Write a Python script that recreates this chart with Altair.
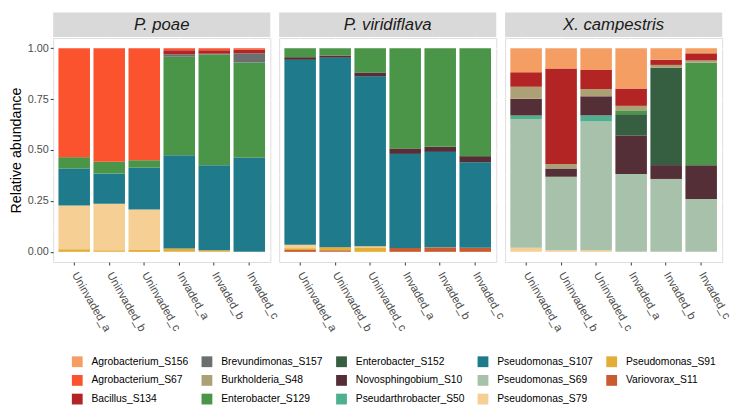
import altair as alt
import pandas as pd

PANELS = ["P. poae", "P. viridiflava", "X. campestris"]
SAMPLES = ["Uninvaded_a", "Uninvaded_b", "Uninvaded_c", "Invaded_a", "Invaded_b", "Invaded_c"]

TAXA = ["Agrobacterium_S156", "Agrobacterium_S67", "Bacillus_S134", "Brevundimonas_S157",
        "Burkholderia_S48", "Enterobacter_S129", "Enterobacter_S152", "Novosphingobium_S10",
        "Pseudarthrobacter_S50", "Pseudomonas_S107", "Pseudomonas_S69", "Pseudomonas_S79",
        "Pseudomonas_S91", "Variovorax_S11"]
COLORS = ["#F49E64", "#FB532E", "#B22524", "#6B6F70",
          "#ACA077", "#4A9548", "#365E40", "#552F38",
          "#4FB08F", "#1F7A8C", "#A8C1AA", "#F5CF94",
          "#E4AD35", "#C85B32"]
LEGEND_COLUMNS = 5

# relative abundances per sample (order of SAMPLES)
POAE = {
    "Pseudomonas_S91":    [0.013, 0.008, 0.009, 0.017, 0.008, 0.000],
    "Pseudomonas_S79":    [0.215, 0.228, 0.199, 0.000, 0.000, 0.000],
    "Pseudomonas_S107":   [0.181, 0.149, 0.206, 0.458, 0.417, 0.462],
    "Enterobacter_S129":  [0.056, 0.057, 0.036, 0.483, 0.544, 0.468],
    "Brevundimonas_S157": [0.000, 0.000, 0.000, 0.012, 0.004, 0.045],
    "Bacillus_S134":      [0.000, 0.000, 0.000, 0.020, 0.017, 0.018],
    "Agrobacterium_S67":  [0.535, 0.558, 0.550, 0.010, 0.010, 0.007],
}
VIRIDIFLAVA = {
    "Variovorax_S11":      [0.009, 0.008, 0.000, 0.019, 0.022, 0.020],
    "Pseudomonas_S91":     [0.009, 0.014, 0.022, 0.000, 0.000, 0.000],
    "Pseudomonas_S79":     [0.017, 0.000, 0.006, 0.000, 0.000, 0.000],
    "Pseudomonas_S107":    [0.908, 0.931, 0.834, 0.462, 0.469, 0.420],
    "Novosphingobium_S10": [0.013, 0.011, 0.019, 0.027, 0.025, 0.030],
    "Enterobacter_S129":   [0.044, 0.036, 0.119, 0.492, 0.484, 0.530],
}
CAMPESTRIS = {
    "Pseudomonas_S79":       [0.020, 0.008, 0.008, 0.000, 0.000, 0.000],
    "Pseudomonas_S69":       [0.632, 0.361, 0.633, 0.382, 0.358, 0.259],
    "Pseudarthrobacter_S50": [0.018, 0.000, 0.029, 0.000, 0.000, 0.000],
    "Novosphingobium_S10":   [0.082, 0.040, 0.094, 0.189, 0.068, 0.166],
    "Enterobacter_S152":     [0.000, 0.000, 0.000, 0.105, 0.478, 0.000],
    "Enterobacter_S129":     [0.000, 0.000, 0.000, 0.019, 0.000, 0.504],
    "Burkholderia_S48":      [0.059, 0.023, 0.035, 0.022, 0.014, 0.011],
    "Bacillus_S134":         [0.071, 0.469, 0.094, 0.085, 0.025, 0.035],
    "Agrobacterium_S156":    [0.118, 0.099, 0.107, 0.198, 0.057, 0.025],
}
PANEL_DATA = [POAE, VIRIDIFLAVA, CAMPESTRIS]
Y_TICKS = [0, 0.25, 0.5, 0.75, 1.0]
Y_MINOR = [0.125, 0.375, 0.625, 0.875]

rows = []
for pname, pdata in zip(PANELS, PANEL_DATA):
    for taxon, vals in pdata.items():
        for s, v in zip(SAMPLES, vals):
            if v > 0:
                rows.append({"panel": pname, "sample": s, "taxon": taxon,
                             "value": v, "idx": TAXA.index(taxon)})
df = pd.DataFrame(rows)

W, H = 221, 228
STRIP = 26
FONT = "Arial"

def make_panel(i, pname):
    first = i == 0
    yaxis = alt.Axis(values=Y_TICKS, format=".2f", grid=True, gridColor="white", gridWidth=1.1,
                     domain=False, tickColor="#333333", tickSize=3,
                     labelColor="#4D4D4D", labelFontSize=11, labelPadding=2,
                     title="Relative abundance" if first else "", titleFontSize=14.5,
                     titleFontWeight="normal", titleColor="black", titlePadding=4,
                     labels=first, ticks=first)
    xaxis = alt.Axis(title=None, labelAngle=60, labelAlign="left", labelBaseline="middle",
                     bandPosition=0.5, grid=True, gridColor="white", gridWidth=1.1,
                     domain=False, tickColor="#333333", tickSize=3,
                     labelColor="#4D4D4D", labelFontSize=11.5, labelPadding=8)
    yscale = alt.Scale(domain=[-0.05, 1.05], nice=False, zero=False)
    minor = alt.Chart(pd.DataFrame({"v": Y_MINOR})).mark_rule(color="white", strokeWidth=0.55).encode(
        y=alt.Y("v:Q", scale=yscale, axis=yaxis))
    bars = alt.Chart(df[df.panel == pname]).mark_bar().encode(
        x=alt.X("sample:N", sort=SAMPLES,
                scale=alt.Scale(domain=SAMPLES, paddingInner=0.1, paddingOuter=0.15), axis=xaxis),
        y=alt.Y("value:Q", stack="zero", scale=yscale, axis=yaxis),
        color=alt.Color("taxon:N", scale=alt.Scale(domain=TAXA, range=COLORS),
                        legend=alt.Legend(title=None, values=TAXA, columns=LEGEND_COLUMNS,
                                          orient="none", legendX=19, legendY=324,
                                          symbolType="square", symbolSize=121,
                                          symbolStrokeWidth=0, symbolOpacity=1,
                                          labelFontSize=10.5, labelFont=FONT, labelColor="black",
                                          labelOffset=9, rowPadding=8, columnPadding=13,
                                          labelLimit=200)),
        order=alt.Order("idx:Q", sort="descending"),
    )
    sdf = pd.DataFrame({"panel": [pname]})
    strip = alt.Chart(sdf).mark_rect(color="#D9D9D9").encode(
        x=alt.value(0), x2=alt.value(W), y=alt.value(-STRIP), y2=alt.value(-1))
    label = alt.Chart(sdf).mark_text(fontStyle="italic", fontSize=17, font=FONT,
                                     color="#1A1A1A", baseline="middle", align="center").encode(
        text="panel:N", x=alt.value(W / 2), y=alt.value(-STRIP / 2))
    return alt.layer(minor, bars, strip, label).properties(width=W, height=H)

chart = alt.hconcat(*[make_panel(i, p) for i, p in enumerate(PANELS)],
                    spacing=9, bounds="flush").properties(
    padding={"left": 0, "top": 0, "right": 0, "bottom": 0}
).configure_view(fill="#EBEBEB", strokeWidth=0).configure(font=FONT)

chart.save("out.html", embed_options={"renderer": "svg", "actions": False})
